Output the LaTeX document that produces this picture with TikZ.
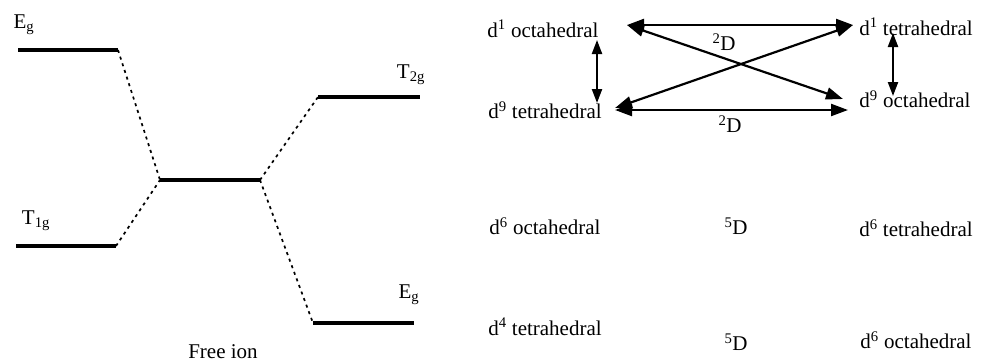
\documentclass[tikz,border=0pt]{standalone}
\usepackage{fontspec}
\setmainfont{Liberation Serif}
\usetikzlibrary{arrows.meta, positioning}
\tikzset{
  level/.style={line width=3.4pt}, % the energy levels
  split/.style={line width=1.7pt, dash pattern=on 3pt off 4pt}, % dotted links
  term/.style={inner sep=0pt, font=\fontsize{21}{24}\selectfont},
  lvl/.style={inner sep=0pt, font=\fontsize{21}{24}\selectfont},
  dbl/.style={line width=2.2pt, {Triangle[length=17pt,width=12pt]}-{Triangle[length=17pt,width=12pt]}},
  vdbl/.style={line width=2.2pt, {Triangle[length=14pt,width=10pt]}-{Triangle[length=14pt,width=10pt]}},
}

\begin{document}
\begin{tikzpicture}[x=1pt,y=-1pt]
  \useasboundingbox (0,0) rectangle (985,362);

  % splitting of the free ion level
  \coordinate (egL)  at (18,50);   \coordinate (egR)  at (118,50);
  \coordinate (t1L)  at (16,246);  \coordinate (t1R)  at (116,246);
  \coordinate (frL)  at (160,180); \coordinate (frR)  at (260,180);
  \coordinate (t2L)  at (318,97);  \coordinate (t2R)  at (420,97);
  \coordinate (eg2L) at (313,323); \coordinate (eg2R) at (414,323);

  \draw[level] (egL) -- (egR);
  \draw[level] (t1L) -- (t1R);
  \draw[level] (frL) -- (frR);
  \draw[level] (t2L) -- (t2R);
  \draw[level] (eg2L) -- (eg2R);

  \draw[split] (egR) -- (frL);
  \draw[split] (t1R) -- (frL);
  \draw[split] (frR) -- (t2L);
  \draw[split] (frR) -- (eg2L);

  \node[lvl] (eg)   at (24,25)   {E\textsubscript{g}};
  \node[lvl] (t1g)  at (36,221)  {T\textsubscript{1g}};
  \node[lvl] (t2g)  at (411,75)  {T\textsubscript{2g}};
  \node[lvl] (eg2)  at (409,295) {E\textsubscript{g}};
  \node[lvl] (free) at (223,352) {Free ion};

  % terms of the d^n configurations
  \node[term] (oct1)  at (543,29)  {d\textsuperscript{1} octahedral};
  \node[term] (tet1)  at (916,27)  {d\textsuperscript{1} tetrahedral};
  \node[term] (tet9)  at (545,110) {d\textsuperscript{9} tetrahedral};
  \node[term] (oct9)  at (915,99)  {d\textsuperscript{9} octahedral};
  \node[term] (dtwoa) at (724,42)  {\textsuperscript{2}D};
  \node[term] (dtwob) at (730,124) {\textsuperscript{2}D};

  \node[term] (oct6)  at (545,226) {d\textsuperscript{6} octahedral};
  \node[term] (dfivea) at (736,226) {\textsuperscript{5}D};
  \node[term] (tet6)  at (916,228) {d\textsuperscript{6} tetrahedral};
  \node[term] (tet4)  at (545,327) {d\textsuperscript{4} tetrahedral};
  \node[term] (dfiveb) at (736,342) {\textsuperscript{5}D};
  \node[term] (oct6b) at (916,340) {d\textsuperscript{6} octahedral};

  % arrow ends
  \coordinate (a1) at (627,25);  \coordinate (a2) at (853,25);
  \coordinate (b1) at (615,110); \coordinate (b2) at (848,110);
  \coordinate (c1) at (843,99);  \coordinate (c2) at (615,108);
  \coordinate (v1) at (597,40);  \coordinate (v2) at (597,103);
  \coordinate (w1) at (893,33);  \coordinate (w2) at (893,96);

  \draw[dbl] (a1) -- (a2);
  \draw[dbl] (b1) -- (b2);
  \draw[dbl] (a1) -- (c1);
  \draw[dbl] (a2) -- (c2);
  \draw[vdbl] (v1) -- (v2);
  \draw[vdbl] (w1) -- (w2);
\end{tikzpicture}
\end{document}
